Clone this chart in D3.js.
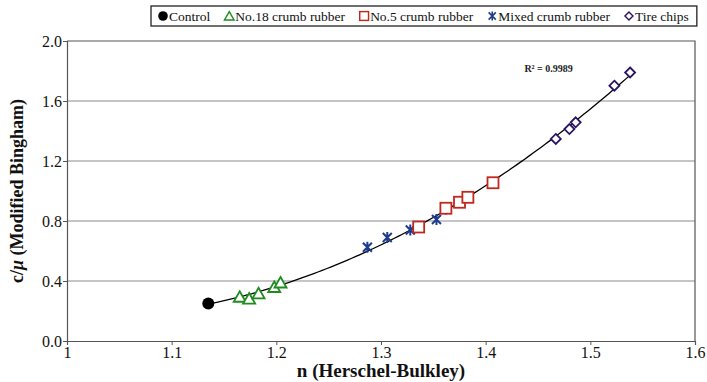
<!DOCTYPE html>
<html>
<head>
<meta charset="utf-8">
<script src="https://cdn.jsdelivr.net/npm/d3@7"></script>
</head>
<body style="margin:0;background:#fff">
<div id="chart"></div>
<script>
// data
const controlN = [1.135];
const controlC = [0.25];
const no18N = [1.165, 1.174, 1.183, 1.198, 1.204];
const no18C = [0.295, 0.283, 0.318, 0.36, 0.39];
const mixedN = [1.287, 1.306, 1.328, 1.353, 1.362];
const mixedC = [0.625, 0.69, 0.74, 0.81, 0.88];
const no5N = [1.336, 1.362, 1.375, 1.383, 1.407];
const no5C = [0.76, 0.885, 0.925, 0.958, 1.055];
const tireN = [1.467, 1.480, 1.486, 1.523, 1.538];
const tireC = [1.347, 1.413, 1.458, 1.702, 1.79];
const xTicks = [1, 1.1, 1.2, 1.3, 1.4, 1.5, 1.6];
const yTicks = [0, 0.4, 0.8, 1.2, 1.6, 2.0];
const r2Label = "R² = 0.9989";

const FONT = "'Liberation Serif'";
const width = 707, height = 382;
const margin = {top: 41, right: 12, bottom: 41, left: 67};

const svg = d3.select("#chart").append("svg")
  .attr("width", width)
  .attr("height", height)
  .attr("font-family", "Liberation Serif");

const x = d3.scaleLinear().domain([1, 1.6]).range([margin.left, width - margin.right]);
const y = d3.scaleLinear().domain([0, 2]).range([height - margin.bottom, margin.top]);

const series = [
  {name: "Control", n: controlN, c: controlC, type: "circle", color: "#000"},
  {name: "No.18 crumb rubber", n: no18N, c: no18C, type: "triangle", color: "#1e8c1e"},
  {name: "No.5 crumb rubber", n: no5N, c: no5C, type: "square", color: "#c0281e"},
  {name: "Mixed crumb rubber", n: mixedN, c: mixedC, type: "star", color: "#1f3c8c"},
  {name: "Tire chips", n: tireN, c: tireC, type: "diamond", color: "#2a1464"}
];

// gridlines
svg.append("g")
  .selectAll("line")
  .data(yTicks.filter(d => d > 0 && d < 2))
  .enter().append("line")
  .attr("x1", x(1)).attr("x2", x(1.6))
  .attr("y1", d => y(d)).attr("y2", d => y(d))
  .attr("stroke", "#8c8c8c")
  .attr("stroke-width", 1.2);

// frame top and right
svg.append("path")
  .attr("d", "M" + x(1) + "," + y(2) + "H" + x(1.6) + "V" + y(0))
  .attr("fill", "none")
  .attr("stroke", "#555")
  .attr("stroke-width", 1.2);

// axes
const xAxis = svg.append("g")
  .attr("transform", "translate(0," + y(0) + ")")
  .call(d3.axisBottom(x).tickValues(xTicks).tickSize(4).tickPadding(2)
    .tickFormat(d => d === 1 ? "1" : d3.format(".1f")(d)));
const yAxis = svg.append("g")
  .attr("transform", "translate(" + x(1) + ",0)")
  .call(d3.axisLeft(y).tickValues(yTicks).tickSize(4).tickPadding(1).tickFormat(d3.format(".1f")));

[xAxis, yAxis].forEach(a => {
  a.attr("font-family", null).attr("font-size", null);
  a.select(".domain").attr("stroke", "#555").attr("stroke-width", 1.2);
  a.selectAll(".tick line").attr("stroke", "#555");
  a.selectAll("text")
    .attr("fill", "#111")
    .attr("font-size", 16)
    .style("font-family", FONT);
});

// quadratic trend line (least squares over all points)
const allN = [].concat(controlN, no18N, mixedN, no5N, tireN);
const allC = [].concat(controlC, no18C, mixedC, no5C, tireC);
function polyFit(xs, ys) {
  let s = [0, 0, 0, 0, 0], t = [0, 0, 0];
  xs.forEach((xv, i) => {
    for (let k = 0; k < 5; k++) s[k] += Math.pow(xv, k);
    for (let k = 0; k < 3; k++) t[k] += ys[i] * Math.pow(xv, k);
  });
  const m = [[s[0], s[1], s[2], t[0]], [s[1], s[2], s[3], t[1]], [s[2], s[3], s[4], t[2]]];
  for (let i = 0; i < 3; i++) {
    for (let j = i + 1; j < 3; j++) {
      const f = m[j][i] / m[i][i];
      for (let k = i; k < 4; k++) m[j][k] -= f * m[i][k];
    }
  }
  const c = [0, 0, 0];
  for (let i = 2; i >= 0; i--) {
    let v = m[i][3];
    for (let k = i + 1; k < 3; k++) v -= m[i][k] * c[k];
    c[i] = v / m[i][i];
  }
  return c;
}
const coef = polyFit(allN, allC);
const nMin = d3.min(allN), nMax = d3.max(allN);
const trend = d3.range(0, 101).map(i => {
  const n = nMin + (nMax - nMin) * i / 100;
  return [n, coef[0] + coef[1] * n + coef[2] * n * n];
});
svg.append("path")
  .datum(trend)
  .attr("fill", "none")
  .attr("stroke", "#000")
  .attr("stroke-width", 1.3)
  .attr("d", d3.line().x(d => x(d[0])).y(d => y(d[1])));

// markers
function drawMarker(g, type, color) {
  if (type === "circle") {
    g.append("circle").attr("r", 6).attr("fill", color);
  } else if (type === "triangle") {
    g.append("path").attr("d", "M0,-5.5L6,5L-6,5Z")
      .attr("fill", "#fff").attr("stroke", color).attr("stroke-width", 1.8);
  } else if (type === "square") {
    g.append("rect").attr("x", -5.5).attr("y", -5.5).attr("width", 11).attr("height", 11)
      .attr("fill", "#fff").attr("stroke", color).attr("stroke-width", 1.8);
  } else if (type === "star") {
    g.append("path").attr("d", "M-4.5,-4.5L4.5,4.5M-4.5,4.5L4.5,-4.5M0,-5.5V5.5")
      .attr("fill", "none").attr("stroke", color).attr("stroke-width", 2);
  } else if (type === "diamond") {
    g.append("path").attr("d", "M0,-5L5,0L0,5L-5,0Z")
      .attr("fill", "#fff").attr("stroke", color).attr("stroke-width", 1.8);
  }
}

const pointOrder = [series[0], series[1], series[3], series[2], series[4]];
pointOrder.forEach(s => {
  s.n.forEach((n, i) => {
    const g = svg.append("g").attr("transform", "translate(" + x(n) + "," + y(s.c[i]) + ")");
    drawMarker(g, s.type, s.color);
  });
});

// R² label
svg.append("text")
  .attr("x", x(1.437))
  .attr("y", y(1.795))
  .attr("font-size", 10)
  .attr("font-weight", "bold")
  .attr("fill", "#222")
  .style("font-family", FONT)
  .text(r2Label);

// axis titles
svg.append("text")
  .attr("x", x(1.3))
  .attr("y", 377)
  .attr("text-anchor", "middle")
  .attr("font-size", 19)
  .attr("font-weight", "bold")
  .attr("fill", "#111")
  .style("font-family", FONT)
  .text("n (Herschel-Bulkley)");

const yTitle = svg.append("text")
  .attr("transform", "translate(23," + ((y(0) + y(2)) / 2) + ") rotate(-90)")
  .attr("text-anchor", "middle")
  .attr("font-size", 18)
  .attr("font-weight", "bold")
  .attr("fill", "#111")
  .style("font-family", FONT);
yTitle.append("tspan").text("c/");
yTitle.append("tspan").attr("font-style", "italic").text("μ");
yTitle.append("tspan").text(" (Modified Bingham)");

// legend: laid out left to right from measured text widths
const legend = svg.append("g");
const legendBox = legend.append("rect")
  .attr("y", 6).attr("height", 20)
  .attr("fill", "#fff").attr("stroke", "#222").attr("stroke-width", 1.3);
let cursor = 157;
series.forEach((s, i) => {
  const g = legend.append("g").attr("transform", "translate(" + cursor + ",16)");
  const m = g.append("g").attr("transform", "translate(6,0) scale(0.8)");
  drawMarker(m, s.type, s.color);
  const t = g.append("text")
    .attr("x", 12)
    .attr("y", 4.5)
    .attr("font-size", 13.5)
    .attr("fill", "#111")
    .style("font-family", FONT)
    .text(s.name);
  cursor += 12 + t.node().getComputedTextLength() + 13;
});
legendBox.attr("x", 151).attr("width", cursor - 13 + 8 - 151);
</script>
</body>
</html>
